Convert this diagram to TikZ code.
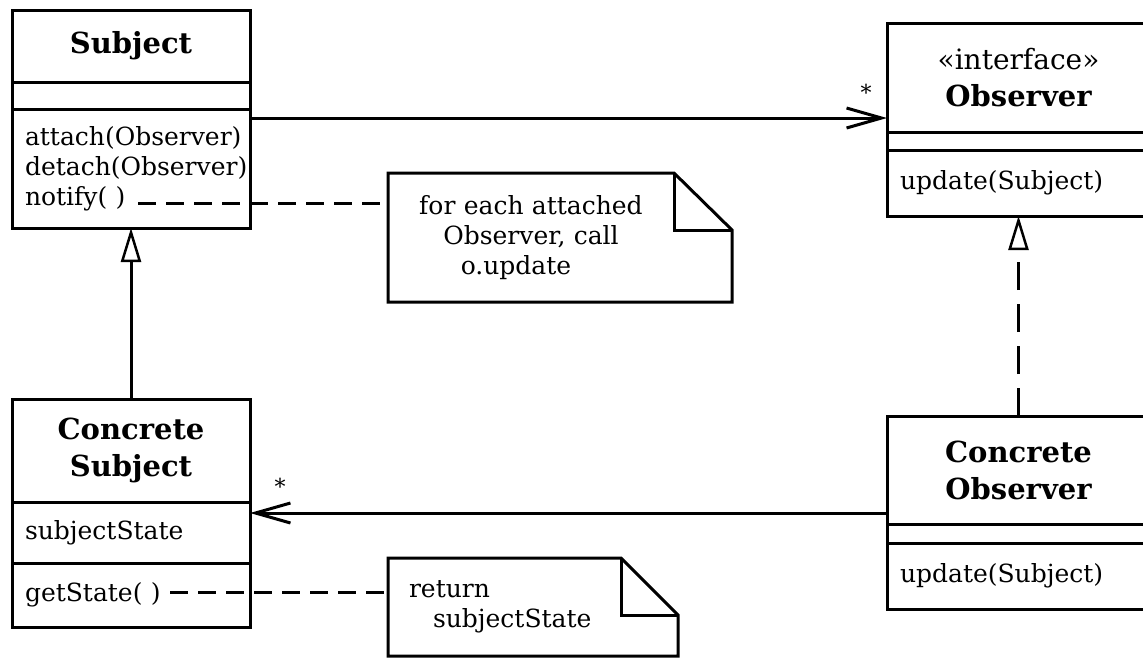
\documentclass[tikz,border=0pt]{standalone}
\usepackage{fontspec}
\setmainfont{DejaVu Serif}
\usetikzlibrary{arrows.meta,positioning}

\tikzset{
  umlname/.style={draw, line width=3pt, outer sep=0pt, inner sep=0pt, align=center,
    font=\bfseries\fontsize{29}{37}\selectfont},
  umlpart/.style={draw, line width=3pt, outer sep=0pt, inner xsep=13pt, inner ysep=0pt,
    align=left, font=\fontsize{25}{30}\selectfont},
  notebox/.style={inner sep=0pt, outer sep=0pt, font=\fontsize{25}{30}\selectfont},
  noteedge/.style={line width=3pt, line join=miter},
  noteline/.style={line width=3pt, dash pattern=on 18pt off 10pt},
  assoc/.style={line width=3pt, -{Straight Barb[length=35pt,width=20pt]}},
  inherit/.style={line width=3pt, -{Triangle[open,length=34pt,width=20pt,line width=2.5pt]}},
  realize/.style={inherit, dash pattern=on 28pt off 14pt},
  mult/.style={inner sep=0pt, font=\fontsize{22}{22}\selectfont}
}

\begin{document}
\begin{tikzpicture}[x=1pt, y=-1pt]
\useasboundingbox (0,0) rectangle (1143,657);

%Subject
\node[umlname, minimum width=238pt, minimum height=72pt, anchor=north west] (subjName) at (12,10) {Subject};
\node[umlpart, text width=212pt, minimum height=27pt, below=0pt of subjName] (subjAttr) {};
\node[umlpart, text width=212pt, minimum height=119pt, below=0pt of subjAttr] (subjOps) {attach(Observer)\\detach(Observer)\\notify( )};

%Observer
\node[umlname, minimum width=263pt, minimum height=109pt, anchor=north west] (obsName) at (887,23) {{\mdseries\fontsize{28}{37}\selectfont «interface»}\\Observer};
\node[umlpart, text width=237pt, minimum height=18pt, below=0pt of obsName] (obsAttr) {};
\node[umlpart, text width=237pt, minimum height=66pt, below=0pt of obsAttr] (obsOps) {update(Subject)};

%ConcreteSubject
\node[umlname, minimum width=238pt, minimum height=103pt, anchor=north west] (csubjName) at (12,399) {Concrete\\Subject};
\node[umlpart, text width=212pt, minimum height=61pt, below=0pt of csubjName] (csubjAttr) {subjectState};
\node[umlpart, text width=212pt, minimum height=64pt, below=0pt of csubjAttr] (csubjOps) {getState( )};

%ConcreteObserver
\node[umlname, minimum width=263pt, minimum height=108pt, anchor=north west] (cobsName) at (887,416) {Concrete\\Observer};
\node[umlpart, text width=237pt, minimum height=19pt, below=0pt of cobsName] (cobsAttr) {};
\node[umlpart, text width=237pt, minimum height=66pt, below=0pt of cobsAttr] (cobsOps) {update(Subject)};

%notes, dog ear on the right
\node[notebox, text width=286pt, minimum height=129pt, align=center, anchor=north west] (notifyNote) at (388,173)
  {for each attached\\Observer, call\\\hspace*{-30pt}o.update};
\draw[noteedge] (notifyNote.north west) -- (notifyNote.north east) -- ++(58,57)
  -- ([xshift=58pt]notifyNote.south east) -- (notifyNote.south west) -- cycle;
\draw[noteedge] (notifyNote.north east) -- ++(0,57) -- ++(58,0);

\node[notebox, text width=233pt, minimum height=98pt, align=left, anchor=north west] (stateNote) at (388,558)
  {\hspace*{21pt}return\\\hspace*{45pt}subjectState};
\draw[noteedge] (stateNote.north west) -- (stateNote.north east) -- ++(57,57)
  -- ([xshift=57pt]stateNote.south east) -- (stateNote.south west) -- cycle;
\draw[noteedge] (stateNote.north east) -- ++(0,57) -- ++(57,0);

%note links
\coordinate (notifyEnd) at (138,203);
\coordinate (getStateEnd) at (170,592);
\draw[noteline] (notifyEnd) -- (notifyEnd -| notifyNote.west);
\draw[noteline] (getStateEnd) -- (getStateEnd -| stateNote.west);

%associations
\coordinate (obsLink) at ([yshift=-9pt]subjOps.north east);
\draw[assoc] (obsLink) -- (obsLink -| obsName.west) node[mult, pos=1, xshift=-21pt, yshift=26pt] {*};
\coordinate (subjLink) at ([yshift=11pt]cobsName.south west);
\draw[assoc] (subjLink) -- (subjLink -| csubjAttr.east) node[mult, pos=1, xshift=30pt, yshift=27pt] {*};

%generalization and realization
\draw[inherit] (csubjName.north) -- (subjOps.south);
\draw[realize] (cobsName.north) -- (obsOps.south);
\end{tikzpicture}
\end{document}
